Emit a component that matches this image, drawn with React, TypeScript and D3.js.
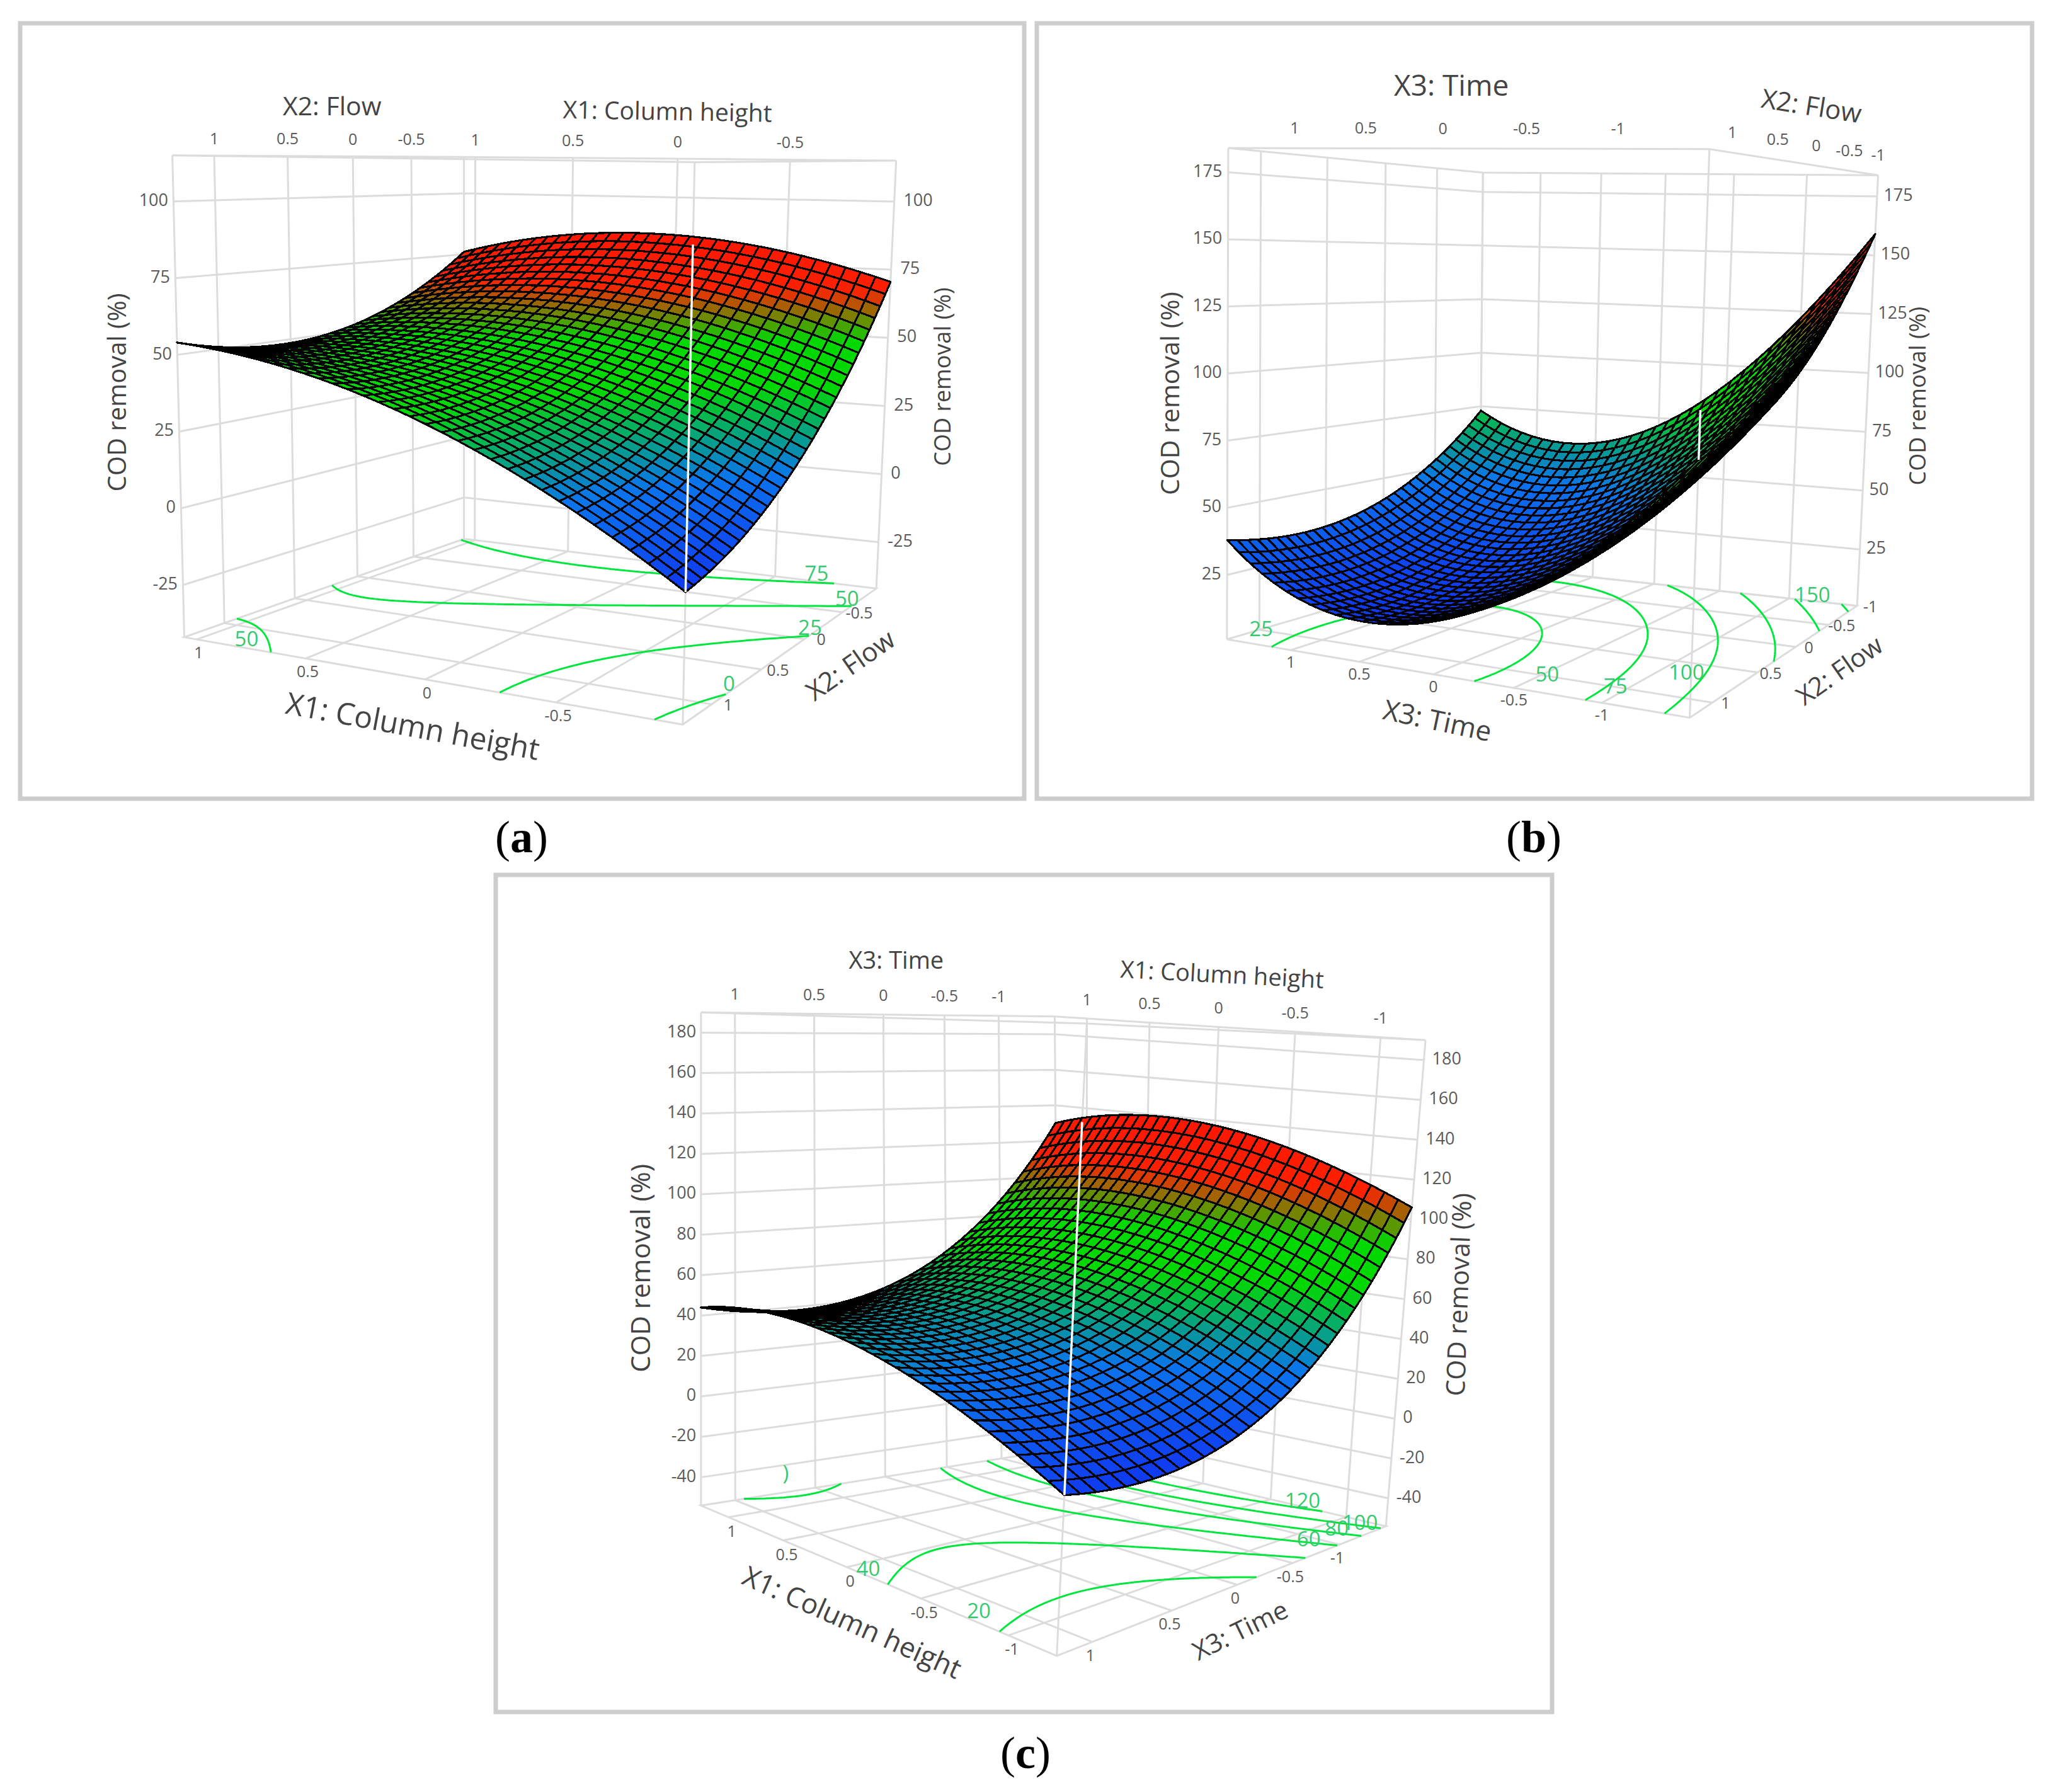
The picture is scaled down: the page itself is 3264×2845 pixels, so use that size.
import React from "react";
import * as d3 from "d3";

// ---------- values ----------
// Each table: COD removal estimated at five stations along each floor direction of the box
// (rows: back-to-near along the second axis, columns: along the first axis).
const surfaceA = [
  [76, 83.9, 85.6, 81.1, 70.5],
  [59.8, 64.3, 62.7, 54.9, 40.9],
  [50.7, 51.9, 46.9, 35.8, 18.5],
  [48.8, 46.6, 38.3, 23.8, 3.2],
  [54, 48.5, 36.9, 19, -5],
];
const surfaceB = [
  [73, 60.8, 71, 103.8, 159],
  [51.9, 37.5, 45.6, 76.2, 129.4],
  [39, 22.5, 28.5, 56, 106],
  [34.4, 15.7, 19.6, 44.5, 91],
  [38, 17.3, 19, 41, 84],
];
const surfaceC = [
  [130, 138.6, 137.5, 126.6, 106],
  [81.5, 89.4, 87.5, 75.9, 54.5],
  [51, 58.1, 55.5, 43.1, 21],
  [38.5, 44.9, 41.5, 28.4, 5.5],
  [44, 49.6, 45.5, 31.6, 8],
];
const zTicksA = [-25, 0, 25, 50, 75, 100];
const zTicksB = [25, 50, 75, 100, 125, 150, 175];
const zTicksC = [-40, -20, 0, 20, 40, 60, 80, 100, 120, 140, 160, 180];
const codedTicks = [1, 0.5, 0, -0.5, -1];
const codedTicksNoEnd = [1, 0.5, 0, -0.5];
const contourLevelsA = [0, 25, 50, 75];
const contourLevelsB = [25, 50, 75, 100, 125, 150];
const contourLevelsC = [20, 40, 60, 80, 100, 120];
const contourLabelsA = ["75", "50", "25", "0", "50"];
const contourLabelsB = ["25", "50", "75", "100", "150"];
const contourLabelsC = ["20", "40", ")", "120", "100", "80", "60"];
const zTitle = "COD removal (%)";

// ---------- drawing set-up ----------
type Pt = [number, number];
const STATIONS = [0, 0.25, 0.5, 0.75, 1];
const CELLS = 32;
const surfaceColor = d3
  .scaleLinear<string>()
  .domain([0, 0.22, 0.47, 0.62, 0.8, 1])
  .range(["#1038f0", "#0a74ee", "#00d800", "#00d800", "#ff2000", "#ff1400"])
  .interpolate(d3.interpolateRgb);

const lagrange = (t: number) =>
  STATIONS.map((k, i) =>
    STATIONS.reduce((acc, m, j) => (j === i ? acc : (acc * (t - m)) / (k - m)), 1)
  );

// The mesh between the stations is drawn with the polynomial through the read values.
const surfaceAt = (table: number[][], u: number, v: number) => {
  const lu = lagrange(u);
  const lv = lagrange(v);
  let s = 0;
  for (let j = 0; j < 5; j++) for (let i = 0; i < 5; i++) s += lv[j] * lu[i] * table[j][i];
  return s;
};

const weights = (p: Pt[]) => {
  const dx1 = p[1][0] - p[2][0], dy1 = p[1][1] - p[2][1];
  const dx2 = p[3][0] - p[2][0], dy2 = p[3][1] - p[2][1];
  const sx = p[0][0] - p[1][0] + p[2][0] - p[3][0];
  const sy = p[0][1] - p[1][1] + p[2][1] - p[3][1];
  const den = dx1 * dy2 - dx2 * dy1;
  const g = (sx * dy2 - dx2 * sy) / den;
  const h = (dx1 * sy - sx * dy1) / den;
  return { w: [1, 1 + g, 1 + g + h, 1 + h], g, h };
};

const patch = (c: Pt[], w: number[], u: number, v: number): Pt => {
  const b = [(1 - u) * (1 - v), u * (1 - v), u * v, (1 - u) * v];
  let nx = 0, ny = 0, d = 0;
  for (let k = 0; k < 4; k++) {
    nx += b[k] * w[k] * c[k][0];
    ny += b[k] * w[k] * c[k][1];
    d += b[k] * w[k];
  }
  return [nx / d, ny / d];
};

type Lbl = { text: string; x: number; y: number; size: number; rot: number };

type PanelSpec = {
  origin: Pt;
  scale: Pt;
  floor: Pt[];
  top: Pt[];
  zRange: Pt;
  table: number[][];
  zTicks: number[];
  levels: number[];
  uDomain: Pt;
  uRange: Pt;
  vDomain: Pt;
  vRange: Pt;
  uTicks: number[];
  vTicks: number[];
  topNear: boolean;
  topOffset: Pt;
  uOffset: Pt;
  vOffset: Pt;
  zLeftOff: number;
  zRightOff: number;
  whiteTopZ: number;
  titles: Lbl[];
  contourText: string[];
  contourAt: Pt[];
  frame: number[];
};

const GRID = "#dcdcdc";
const TICKCOL = "#5a5a5a";
const TITLECOL = "#444";
const GREENLINE = "#00e63c";
const GREENTEXT = "#37c96f";
const FONT = "'Open Sans', 'Noto Sans', sans-serif";

function Panel({ s }: { s: PanelSpec }) {
  const { w, g, h } = weights(s.floor);
  const zT = d3.scaleLinear().domain(s.zRange).range([0, 1]);
  const toPage = (p: Pt): Pt => [s.origin[0] + p[0] * s.scale[0], s.origin[1] + p[1] * s.scale[1]];
  const proj = (u: number, v: number, z: number): Pt => {
    const a = patch(s.floor, w, u, v);
    const b = patch(s.top, w, u, v);
    const t = zT(z);
    return toPage([a[0] + (b[0] - a[0]) * t, a[1] + (b[1] - a[1]) * t]);
  };
  const uS = d3.scaleLinear().domain(s.uDomain).range(s.uRange);
  const vS = d3.scaleLinear().domain(s.vDomain).range(s.vRange);
  const [z0, z1] = s.zRange;
  const line = d3.line<Pt>();

  const gridPaths: string[] = [];
  const add = (pts: Pt[]) => gridPaths.push(line(pts) as string);
  s.uTicks.forEach((t) => {
    const u = uS(t);
    add([proj(u, 0, z0), proj(u, 1, z0)]);
    add([proj(u, 0, z0), proj(u, 0, z1)]);
  });
  s.vTicks.forEach((t) => {
    const v = vS(t);
    add([proj(0, v, z0), proj(1, v, z0)]);
    add([proj(0, v, z0), proj(0, v, z1)]);
  });
  s.zTicks.forEach((z) => add([proj(0, 1, z), proj(0, 0, z), proj(1, 0, z)]));
  add([proj(0, 0, z0), proj(1, 0, z0), proj(1, 1, z0), proj(0, 1, z0), proj(0, 0, z0)]);
  add([proj(0, 0, z1), proj(1, 0, z1), proj(1, 1, z1), proj(0, 1, z1), proj(0, 0, z1)]);
  [[0, 0], [1, 0], [1, 1], [0, 1]].forEach(([a, b]) => add([proj(a, b, z0), proj(a, b, z1)]));

  // contours on the floor
  const N = 90;
  const zv = d3.range(N + 1).map((j) => d3.range(N + 1).map((i) => surfaceAt(s.table, i / N, j / N)));
  const contourPaths = s.levels.map((L) => {
    let d = "";
    for (let j = 0; j < N; j++) {
      for (let i = 0; i < N; i++) {
        const c = [
          [i, j, zv[j][i]],
          [i + 1, j, zv[j][i + 1]],
          [i + 1, j + 1, zv[j + 1][i + 1]],
          [i, j + 1, zv[j + 1][i]],
        ];
        const cross: Pt[] = [];
        for (let k = 0; k < 4; k++) {
          const a = c[k], b = c[(k + 1) % 4];
          if (a[2] < L !== b[2] < L) {
            const f = (L - a[2]) / (b[2] - a[2]);
            cross.push(proj((a[0] + (b[0] - a[0]) * f) / N, (a[1] + (b[1] - a[1]) * f) / N, z0));
          }
        }
        if (cross.length >= 2) d += line([cross[0], cross[1]]);
        if (cross.length === 4) d += line([cross[2], cross[3]]);
      }
    }
    return d;
  });

  // mesh cells, far ones first
  const depth = (u: number, v: number) => 1 + g * u + h * v;
  const cellIdx: { i: number; j: number; d: number }[] = [];
  for (let j = 0; j < CELLS; j++)
    for (let i = 0; i < CELLS; i++)
      cellIdx.push({ i, j, d: depth((i + 0.5) / CELLS, (j + 0.5) / CELLS) });
  cellIdx.sort((a, b) => b.d - a.d);
  const zs = d3.range(CELLS + 1).map((j) =>
    d3.range(CELLS + 1).map((i) => surfaceAt(s.table, i / CELLS, j / CELLS))
  );
  const flat = zs.flat();
  const colorT = d3.scaleLinear().domain([d3.min(flat) as number, d3.max(flat) as number]).range([0, 1]);

  const cornerZ = surfaceAt(s.table, 1, 1);
  const white = [proj(1, 1, cornerZ), proj(1, 1, s.whiteTopZ)];

  const tickText = (p: Pt, off: Pt, text: string, anchor = "middle", size = 25) => {
    const q: Pt = [p[0] + off[0] * s.scale[0], p[1] + off[1] * s.scale[1]];
    return (
      <text key={`${text}-${q[0]}-${q[1]}`} x={q[0]} y={q[1]} textAnchor={anchor} dominantBaseline="middle"
        fontFamily={FONT} fontSize={size} fill={TICKCOL}>{text}</text>
    );
  };

  const fr = s.frame;
  return (
    <g>
      <rect x={fr[0]} y={fr[1]} width={fr[2] - fr[0]} height={fr[3] - fr[1]} fill="#fff" stroke="#cdcdcd" strokeWidth={7} />
      <g fill="none" stroke={GRID} strokeWidth={3}>
        {gridPaths.map((d, i) => <path key={i} d={d} />)}
      </g>
      <g fill="none" stroke={GREENLINE} strokeWidth={3} strokeDasharray="26 2">
        {contourPaths.map((d, i) => <path key={i} d={d} />)}
      </g>
      {s.contourText.map((t, i) => {
        const p = toPage(s.contourAt[i]);
        return (
          <text key={i} x={p[0]} y={p[1]} textAnchor="middle" dominantBaseline="middle" fontFamily={FONT}
            fontSize={33} fill={GREENTEXT}>{t}</text>
        );
      })}
      <g stroke="#000" strokeWidth={3.2} strokeLinejoin="round" shapeRendering="crispEdges">
        {cellIdx.map(({ i, j }) => {
          const a = proj(i / CELLS, j / CELLS, zs[j][i]);
          const b = proj((i + 1) / CELLS, j / CELLS, zs[j][i + 1]);
          const c = proj((i + 1) / CELLS, (j + 1) / CELLS, zs[j + 1][i + 1]);
          const e = proj(i / CELLS, (j + 1) / CELLS, zs[j + 1][i]);
          const mean = (zs[j][i] + zs[j][i + 1] + zs[j + 1][i + 1] + zs[j + 1][i]) / 4;
          return <path key={`${i}-${j}`} d={line([a, b, c, e])! + "Z"} fill={surfaceColor(colorT(mean))} />;
        })}
      </g>
      <path d={line(white) as string} stroke="#fff" strokeWidth={3.5} fill="none" />
      {s.zTicks.map((z) => tickText(proj(0, 1, z), [s.zLeftOff, 0], String(z), "end", 27))}
      {s.zTicks.map((z) => tickText(proj(1, 0, z), [s.zRightOff, 0], String(z), "start", 27))}
      {s.uTicks.map((t) => tickText(proj(uS(t), s.topNear ? 1 : 0, z1), s.topOffset, String(t)))}
      {s.vTicks.map((t) => tickText(proj(s.topNear ? 1 : 0, vS(t), z1), s.topOffset, String(t)))}
      {s.uTicks.map((t) => tickText(proj(uS(t), 1, z0), s.uOffset, String(t)))}
      {s.vTicks.map((t) => tickText(proj(1, vS(t), z0), s.vOffset, String(t)))}
      {s.titles.map((l, i) => {
        const p = toPage([l.x, l.y]);
        return (
          <text key={i} transform={`translate(${p[0]},${p[1]}) rotate(${l.rot})`} textAnchor="middle"
            dominantBaseline="middle" fontFamily={FONT} fontSize={l.size} fill={TITLECOL}>{l.text}</text>
        );
      })}
    </g>
  );
}

const panelA: PanelSpec = {
  origin: [0, 0],
  scale: [1 / 0.9503, 1 / 1.204],
  floor: [[700, 1030], [1322, 1125], [1030, 1385], [278, 1218]],
  top: [[700, 300], [1352, 307], [1048, 310], [260, 297]],
  zRange: [-42, 115],
  table: surfaceA,
  zTicks: zTicksA,
  levels: contourLevelsA,
  uDomain: [1, -1],
  uRange: [0.03, 1.03],
  vDomain: [-1, 1],
  vRange: [0, 0.885],
  uTicks: codedTicksNoEnd,
  vTicks: codedTicksNoEnd,
  topNear: false,
  topOffset: [0, -30],
  uOffset: [3, 28],
  vOffset: [25, 4],
  zLeftOff: -8,
  zRightOff: 14,
  whiteTopZ: 92,
  titles: [
    { text: "X2: Flow", x: 501, y: 207, size: 41, rot: 0 },
    { text: "X1: Column height", x: 1007, y: 217, size: 39, rot: 1 },
    { text: zTitle, x: 180, y: 750, size: 40, rot: -90 },
    { text: zTitle, x: 1425, y: 720, size: 36, rot: -90 },
    { text: "X1: Column height", x: 622, y: 1393, size: 48, rot: 10.5 },
    { text: "X2: Flow", x: 1285, y: 1275, size: 42, rot: -35 },
  ],
  contourText: contourLabelsA,
  contourAt: [[1232, 1100], [1278, 1148], [1222, 1203], [1100, 1310], [372, 1225]],
  frame: [32, 37, 1626, 1268],
};

const panelB: PanelSpec = {
  origin: [1630, 0],
  scale: [1 / 0.9596, 1 / 1.204],
  floor: [[690, 1080], [1265, 1158], [1010, 1372], [305, 1222]],
  top: [[695, 330], [1297, 335], [1040, 285], [307, 283]],
  zRange: [1, 184],
  table: surfaceB,
  zTicks: zTicksB,
  levels: contourLevelsB,
  uDomain: [1, -1],
  uRange: [0.17, 0.845],
  vDomain: [-1, 1],
  vRange: [0, 0.9],
  uTicks: codedTicks,
  vTicks: codedTicks,
  topNear: true,
  topOffset: [0, -36],
  uOffset: [0, 26],
  vOffset: [20, 4],
  zLeftOff: -9,
  zRightOff: 10,
  whiteTopZ: 100,
  titles: [
    { text: "X3: Time", x: 647, y: 168, size: 46, rot: 0 },
    { text: "X2: Flow", x: 1195, y: 207, size: 42, rot: 9 },
    { text: zTitle, x: 222, y: 752, size: 41, rot: -90 },
    { text: zTitle, x: 1360, y: 757, size: 36, rot: -90 },
    { text: "X3: Time", x: 625, y: 1382, size: 44, rot: 12 },
    { text: "X2: Flow", x: 1240, y: 1285, size: 41, rot: -35 },
  ],
  contourText: contourLabelsB,
  contourAt: [[357, 1205], [793, 1292], [897, 1315], [1005, 1288], [1197, 1140]],
  frame: [1646, 37, 3226, 1268],
};

const panelC: PanelSpec = {
  origin: [780, 1380],
  scale: [1 / 0.9224, 1 / 1.069],
  floor: [[830, 985], [1310, 1115], [828, 1335], [307, 1080]],
  top: [[825, 250], [1368, 290], [872, 262], [307, 243]],
  zRange: [-54, 190],
  table: surfaceC,
  zTicks: zTicksC,
  levels: contourLevelsC,
  uDomain: [1, -1],
  uRange: [0.11, 0.904],
  vDomain: [-1, 1],
  vRange: [0.21, 0.93],
  uTicks: codedTicks,
  vTicks: codedTicks,
  topNear: false,
  topOffset: [0, -30],
  uOffset: [5, 26],
  vOffset: [-3, 25],
  zLeftOff: -7,
  zRightOff: 12,
  whiteTopZ: 152,
  titles: [
    { text: "X3: Time", x: 593, y: 158, size: 38, rot: 0 },
    { text: "X1: Column height", x: 1070, y: 182, size: 38, rot: 3 },
    { text: zTitle, x: 222, y: 677, size: 42, rot: -90 },
    { text: zTitle, x: 1420, y: 722, size: 41, rot: -88 },
    { text: "X1: Column height", x: 527, y: 1282, size: 44, rot: 24 },
    { text: "X3: Time", x: 1098, y: 1295, size: 41, rot: -26 },
  ],
  contourText: contourLabelsC,
  contourAt: [[714, 1262], [552, 1190], [431, 1028], [1188, 1075], [1272, 1112], [1238, 1122], [1197, 1140]],
  frame: [787, 1389, 2464, 2718],
};

const captions: { letter: string; x: number; y: number }[] = [
  { letter: "a", x: 828, y: 1336 },
  { letter: "b", x: 2435, y: 1336 },
  { letter: "c", x: 1628, y: 2790 },
];

export default function App() {
  return (
    <svg width={3264} height={2845} viewBox="0 0 3264 2845"
      style={{ position: "absolute", left: 0, top: 0, display: "block", background: "#fff" }}>
      <Panel s={panelA} />
      <Panel s={panelB} />
      <Panel s={panelC} />
      {captions.map((c) => (
        <text key={c.letter} x={c.x} y={c.y} textAnchor="middle" dominantBaseline="middle"
          fontFamily="'Liberation Serif', serif" fontSize={72} fill="#000">
          (<tspan fontWeight="bold">{c.letter}</tspan>)
        </text>
      ))}
    </svg>
  );
}
